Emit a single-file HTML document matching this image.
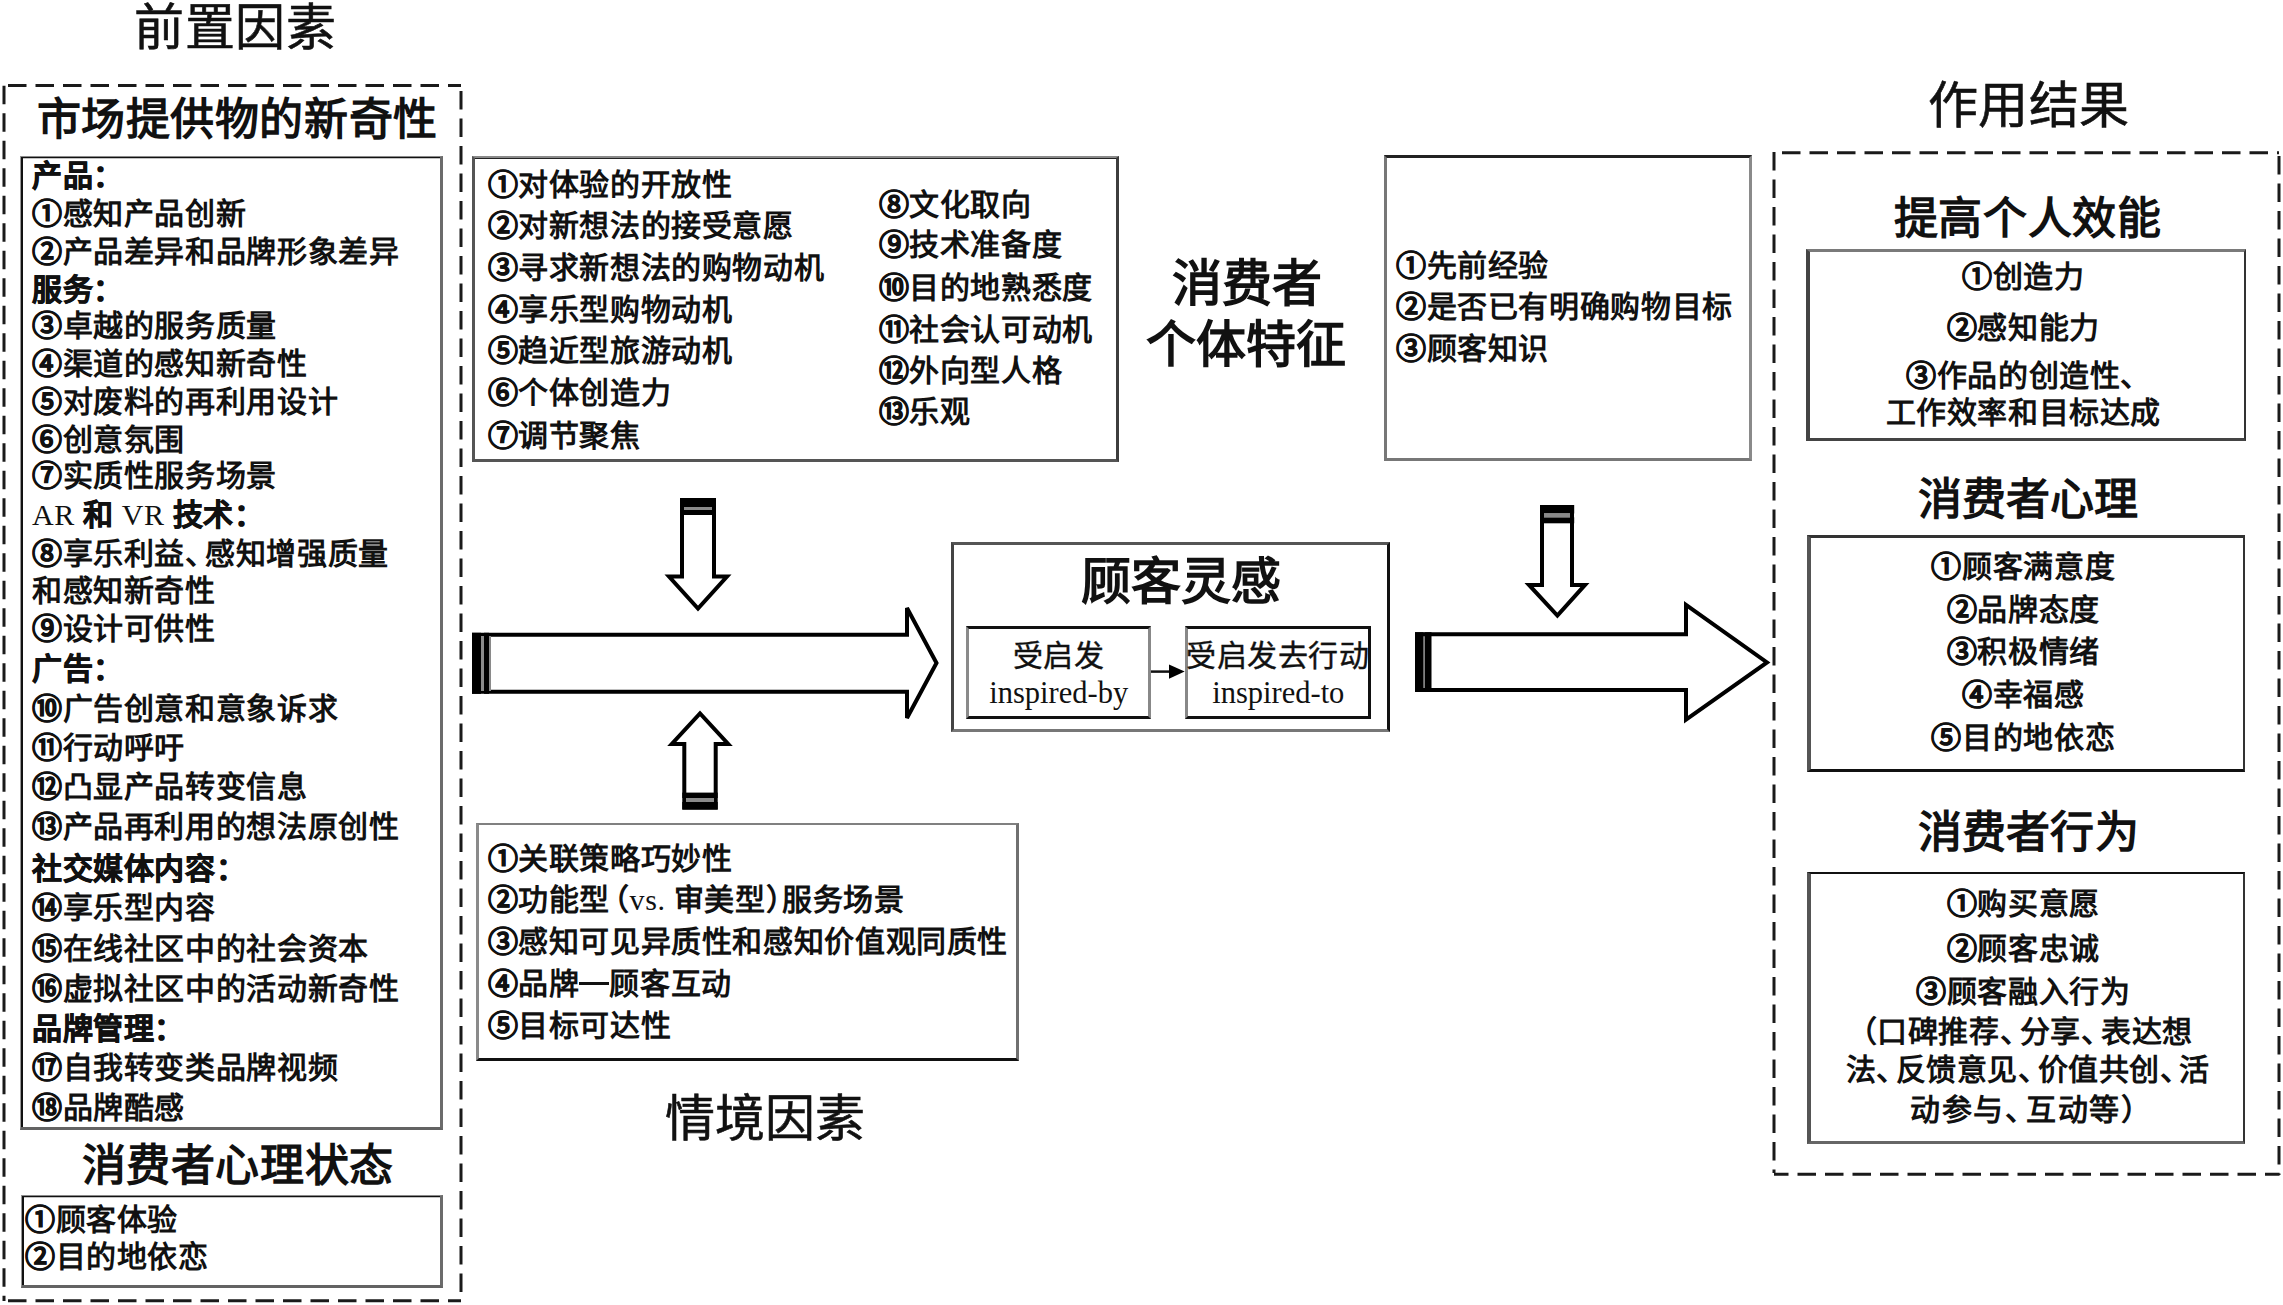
<!DOCTYPE html>
<html lang="zh-CN"><head><meta charset="utf-8"><title>diagram</title>
<style>
html,body{margin:0;padding:0;background:#fff;}
body{width:2283px;height:1305px;position:relative;overflow:hidden;font-family:"Liberation Serif",serif;color:#111;}
.t{position:absolute;white-space:nowrap;}
.b{position:absolute;box-sizing:border-box;border-style:solid;}
.h{margin-right:-0.35em;}
.c{margin-right:-0.4em;}
.po{margin-left:-0.5em;}
.pc{margin-right:-0.5em;}
.n{-webkit-text-stroke:0.6px #111;}
.hd{-webkit-text-stroke:0.7px #111;}
.lat{font-weight:normal;font-family:"Liberation Serif",serif;}
.dash{display:inline-block;width:1em;height:0.1em;background:#111;vertical-align:0.3em;}
</style></head><body>

<svg width="2283" height="1305" style="position:absolute;left:0;top:0">
 <g fill="none" stroke="#1a1a1a" stroke-width="3" stroke-dasharray="18.5 9">
  <path d="M4 85.7 V1301"/><path d="M8 85.5 H461"/><path d="M461 91 V1301"/><path d="M8 1300.8 H461"/>
  <path d="M1774 152 V1173"/><path d="M1782 152.7 H2279"/><path d="M2279 156 V1175"/><path d="M2279.5 1174.3 H1774" stroke-dashoffset="4"/>
 </g>
 <g fill="#fff" stroke="#000" stroke-width="4" stroke-linejoin="miter" stroke-miterlimit="3">
  <path d="M474 634.8 H907 V608 L936.5 663 L907 718 V691.8 H474 Z"/>
  <path d="M1417 634.2 H1686 V604.8 L1767 662.4 L1686 719.6 V690 H1417 Z"/>
  <path d="M682 500 H714 V576.6 H727 L698 608.5 L669 576.6 H682 Z"/>
  <path d="M684.3 807.6 H715.7 V744 H728.2 L700 713.5 L671.8 744 H684.3 Z"/>
  <path d="M1542 507 H1572 V584.9 H1585 L1557.4 615.5 L1529 584.9 H1542 Z"/>
 </g>
 <g fill="#000">
  <rect x="472" y="632.8" width="9" height="61"/><rect x="484" y="632.8" width="5" height="61"/>
  <rect x="1415" y="632.2" width="8.6" height="59.8"/><rect x="1424.5" y="632.2" width="7" height="59.8"/>
  <rect x="680" y="498" width="36" height="9"/><rect x="680" y="510" width="36" height="5"/>
  <rect x="682.3" y="792.6" width="35.4" height="5.4"/><rect x="682.3" y="802" width="35.4" height="7.6"/>
  <rect x="1540" y="505" width="34.2" height="8.5"/><rect x="1540" y="517.3" width="34.2" height="6"/>
 </g>
 <g fill="#8a8a8a">
  <rect x="481" y="636" width="3" height="55"/><rect x="489" y="636" width="2" height="55"/>
  <rect x="684" y="507" width="28" height="3"/>
  <rect x="686" y="798" width="28" height="4"/>
  <rect x="1544" y="513.5" width="26" height="3.8"/>
 </g>
 <g>
  <path d="M1150.8 671.6 H1172" stroke="#111" stroke-width="2.5"/>
  <path d="M1169 664.5 L1184.7 671.6 L1169 678.7 Z" fill="#000"/>
 </g>
</svg>

<div class="b" style="left:20.1px;top:156.3px;width:422.8px;height:973.7px;border-style:solid;border-width:1.8px 3px 3px 1.8px;border-color:#8a8a8a #6b6b6b #636363 #999;box-shadow:inset 2px 1.2px 0 #111;"></div>
<div class="b" style="left:21.0px;top:1194.5px;width:421.5px;height:93.0px;border-style:solid;border-width:1.8px 3px 3px 1.8px;border-color:#8a8a8a #6b6b6b #636363 #999;box-shadow:inset 2px 1.2px 0 #111;"></div>
<div class="b" style="left:472.3px;top:156.0px;width:646.5px;height:306.0px;border-style:solid;border-width:2px 3.6px 3px 3px;border-color:#8a8a8a #3d3d3d #555 #555;box-shadow:inset 0 1px 0 #222;"></div>
<div class="b" style="left:475.8px;top:823.0px;width:543.0px;height:237.5px;border-style:solid;border-width:2.5px 3px 3px 3px;border-color:#808080 #707070 #111 #8a8a8a;"></div>
<div class="b" style="left:950.5px;top:541.8px;width:439.0px;height:190.2px;border-style:solid;border-width:3px 3px 3px 3px;border-color:#555 #111 #777 #444;"></div>
<div class="b" style="left:965.5px;top:626.0px;width:185.5px;height:93.0px;border-style:solid;border-width:3px 3px 3px 3px;border-color:#111 #888 #111 #8a8a8a;"></div>
<div class="b" style="left:1184.5px;top:626.0px;width:186.5px;height:93.0px;border-style:solid;border-width:3px 3px 3px 3px;border-color:#111 #111 #111 #888;"></div>
<div class="b" style="left:1384.3px;top:155.3px;width:368.2px;height:305.7px;border-style:solid;border-width:3px 3px 3px 3px;border-color:#222 #8a8a8a #777 #777;"></div>
<div class="b" style="left:1806.2px;top:249.1px;width:439.4px;height:192.4px;border-style:solid;border-width:3px 2px 3px 4px;border-color:#7a7a7a #333 #444 #444;"></div>
<div class="b" style="left:1807.0px;top:534.6px;width:438.2px;height:237.9px;border-style:solid;border-width:3px 2px 3px 4px;border-color:#333 #333 #111 #555;"></div>
<div class="b" style="left:1806.9px;top:872.2px;width:438.3px;height:272.3px;border-style:solid;border-width:2.5px 2px 3.5px 4px;border-color:#111 #333 #666 #555;"></div>
<div class="t" style="top:3.0px;font-size:50px;line-height:50px;font-weight:normal;letter-spacing:0.67px;left:134.0px;-webkit-text-stroke:0.6px #111;">前置因素</div>
<div class="t" style="top:98.6px;font-size:44px;line-height:44px;font-weight:bold;letter-spacing:0.6px;left:36.5px;">市场提供物的新奇性</div>
<div class="t" style="top:1145.0px;font-size:44px;line-height:44px;font-weight:bold;letter-spacing:0.63px;left:81.5px;">消费者心理状态</div>
<div class="t" style="top:1093.7px;font-size:50px;line-height:50px;font-weight:normal;letter-spacing:0px;left:664.5px;-webkit-text-stroke:0.6px #111;">情境因素</div>
<div class="t" style="top:81.0px;font-size:50px;line-height:50px;font-weight:normal;letter-spacing:0.37px;left:1928.0px;-webkit-text-stroke:0.6px #111;">作用结果</div>
<div class="t" style="top:259.0px;font-size:50px;line-height:50px;font-weight:bold;letter-spacing:0px;left:1172.0px;">消费者</div>
<div class="t" style="top:320.0px;font-size:50px;line-height:50px;font-weight:bold;letter-spacing:0px;left:1146.0px;">个体特征</div>
<div class="t" style="top:557.0px;font-size:50px;line-height:50px;font-weight:bold;letter-spacing:0px;left:1081.0px;">顾客灵感</div>
<div class="t" style="top:198.0px;font-size:44px;line-height:44px;font-weight:bold;letter-spacing:0.72px;left:1893.5px;">提高个人效能</div>
<div class="t" style="top:479.0px;font-size:44px;line-height:44px;font-weight:bold;letter-spacing:0.18px;left:1917.5px;">消费者心理</div>
<div class="t" style="top:812.0px;font-size:44px;line-height:44px;font-weight:bold;letter-spacing:0.28px;left:1917.5px;">消费者行为</div>
<div class="t" style="top:161.4px;font-size:30px;line-height:30px;font-weight:bold;letter-spacing:0.62px;left:32.0px;"><span class="hd">产品<span class="c">：</span></span></div>
<div class="t" style="top:199.0px;font-size:30px;line-height:30px;font-weight:bold;letter-spacing:0.62px;left:32.0px;"><span class="n">①</span>感知产品创新</div>
<div class="t" style="top:237.0px;font-size:30px;line-height:30px;font-weight:bold;letter-spacing:0.62px;left:32.0px;"><span class="n">②</span>产品差异和品牌形象差异</div>
<div class="t" style="top:275.0px;font-size:30px;line-height:30px;font-weight:bold;letter-spacing:0.62px;left:32.0px;"><span class="hd">服务<span class="c">：</span></span></div>
<div class="t" style="top:311.0px;font-size:30px;line-height:30px;font-weight:bold;letter-spacing:0.62px;left:32.0px;"><span class="n">③</span>卓越的服务质量</div>
<div class="t" style="top:349.0px;font-size:30px;line-height:30px;font-weight:bold;letter-spacing:0.62px;left:32.0px;"><span class="n">④</span>渠道的感知新奇性</div>
<div class="t" style="top:387.0px;font-size:30px;line-height:30px;font-weight:bold;letter-spacing:0.62px;left:32.0px;"><span class="n">⑤</span>对废料的再利用设计</div>
<div class="t" style="top:425.0px;font-size:30px;line-height:30px;font-weight:bold;letter-spacing:0.62px;left:32.0px;"><span class="n">⑥</span>创意氛围</div>
<div class="t" style="top:461.0px;font-size:30px;line-height:30px;font-weight:bold;letter-spacing:0.62px;left:32.0px;"><span class="n">⑦</span>实质性服务场景</div>
<div class="t" style="top:500.0px;font-size:30px;line-height:30px;font-weight:bold;letter-spacing:0.62px;left:32.0px;"><span class="lat">AR </span><span class="hd">和</span><span class="lat"> VR </span><span class="hd">技术<span class="c">：</span></span></div>
<div class="t" style="top:539.0px;font-size:30px;line-height:30px;font-weight:bold;letter-spacing:0.62px;left:32.0px;"><span class="n">⑧</span>享乐利益<span class="h">、</span>感知增强质量</div>
<div class="t" style="top:576.0px;font-size:30px;line-height:30px;font-weight:bold;letter-spacing:0.62px;left:32.0px;">和感知新奇性</div>
<div class="t" style="top:613.5px;font-size:30px;line-height:30px;font-weight:bold;letter-spacing:0.62px;left:32.0px;"><span class="n">⑨</span>设计可供性</div>
<div class="t" style="top:654.0px;font-size:30px;line-height:30px;font-weight:bold;letter-spacing:0.62px;left:32.0px;"><span class="hd">广告<span class="c">：</span></span></div>
<div class="t" style="top:693.5px;font-size:30px;line-height:30px;font-weight:bold;letter-spacing:0.62px;left:32.0px;"><span class="n">⑩</span>广告创意和意象诉求</div>
<div class="t" style="top:733.0px;font-size:30px;line-height:30px;font-weight:bold;letter-spacing:0.62px;left:32.0px;"><span class="n">⑪</span>行动呼吁</div>
<div class="t" style="top:772.0px;font-size:30px;line-height:30px;font-weight:bold;letter-spacing:0.62px;left:32.0px;"><span class="n">⑫</span>凸显产品转变信息</div>
<div class="t" style="top:812.0px;font-size:30px;line-height:30px;font-weight:bold;letter-spacing:0.62px;left:32.0px;"><span class="n">⑬</span>产品再利用的想法原创性</div>
<div class="t" style="top:853.6px;font-size:30px;line-height:30px;font-weight:bold;letter-spacing:0.62px;left:32.0px;"><span class="hd">社交媒体内容<span class="c">：</span></span></div>
<div class="t" style="top:893.0px;font-size:30px;line-height:30px;font-weight:bold;letter-spacing:0.62px;left:32.0px;"><span class="n">⑭</span>享乐型内容</div>
<div class="t" style="top:933.5px;font-size:30px;line-height:30px;font-weight:bold;letter-spacing:0.62px;left:32.0px;"><span class="n">⑮</span>在线社区中的社会资本</div>
<div class="t" style="top:973.7px;font-size:30px;line-height:30px;font-weight:bold;letter-spacing:0.62px;left:32.0px;"><span class="n">⑯</span>虚拟社区中的活动新奇性</div>
<div class="t" style="top:1014.0px;font-size:30px;line-height:30px;font-weight:bold;letter-spacing:0.62px;left:32.0px;"><span class="hd">品牌管理<span class="c">：</span></span></div>
<div class="t" style="top:1052.5px;font-size:30px;line-height:30px;font-weight:bold;letter-spacing:0.62px;left:32.0px;"><span class="n">⑰</span>自我转变类品牌视频</div>
<div class="t" style="top:1092.8px;font-size:30px;line-height:30px;font-weight:bold;letter-spacing:0.62px;left:32.0px;"><span class="n">⑱</span>品牌酷感</div>
<div class="t" style="top:1205.0px;font-size:30px;line-height:30px;font-weight:bold;letter-spacing:0.62px;left:25.0px;"><span class="n">①</span>顾客体验</div>
<div class="t" style="top:1242.0px;font-size:30px;line-height:30px;font-weight:bold;letter-spacing:0.62px;left:25.0px;"><span class="n">②</span>目的地依恋</div>
<div class="t" style="top:170.3px;font-size:30px;line-height:30px;font-weight:bold;letter-spacing:0.62px;left:487.5px;"><span class="n">①</span>对体验的开放性</div>
<div class="t" style="top:210.8px;font-size:30px;line-height:30px;font-weight:bold;letter-spacing:0.62px;left:487.5px;"><span class="n">②</span>对新想法的接受意愿</div>
<div class="t" style="top:252.5px;font-size:30px;line-height:30px;font-weight:bold;letter-spacing:0.62px;left:487.5px;"><span class="n">③</span>寻求新想法的购物动机</div>
<div class="t" style="top:295.4px;font-size:30px;line-height:30px;font-weight:bold;letter-spacing:0.62px;left:487.5px;"><span class="n">④</span>享乐型购物动机</div>
<div class="t" style="top:336.0px;font-size:30px;line-height:30px;font-weight:bold;letter-spacing:0.62px;left:487.5px;"><span class="n">⑤</span>趋近型旅游动机</div>
<div class="t" style="top:377.5px;font-size:30px;line-height:30px;font-weight:bold;letter-spacing:0.62px;left:487.5px;"><span class="n">⑥</span>个体创造力</div>
<div class="t" style="top:420.5px;font-size:30px;line-height:30px;font-weight:bold;letter-spacing:0.62px;left:487.5px;"><span class="n">⑦</span>调节聚焦</div>
<div class="t" style="top:190.0px;font-size:30px;line-height:30px;font-weight:bold;letter-spacing:0.62px;left:878.5px;"><span class="n">⑧</span>文化取向</div>
<div class="t" style="top:230.4px;font-size:30px;line-height:30px;font-weight:bold;letter-spacing:0.62px;left:878.5px;"><span class="n">⑨</span>技术准备度</div>
<div class="t" style="top:273.3px;font-size:30px;line-height:30px;font-weight:bold;letter-spacing:0.62px;left:878.5px;"><span class="n">⑩</span>目的地熟悉度</div>
<div class="t" style="top:315.0px;font-size:30px;line-height:30px;font-weight:bold;letter-spacing:0.62px;left:878.5px;"><span class="n">⑪</span>社会认可动机</div>
<div class="t" style="top:355.5px;font-size:30px;line-height:30px;font-weight:bold;letter-spacing:0.62px;left:878.5px;"><span class="n">⑫</span>外向型人格</div>
<div class="t" style="top:397.0px;font-size:30px;line-height:30px;font-weight:bold;letter-spacing:0.62px;left:878.5px;"><span class="n">⑬</span>乐观</div>
<div class="t" style="top:844.0px;font-size:30px;line-height:30px;font-weight:bold;letter-spacing:0.62px;left:487.5px;"><span class="n">①</span>关联策略巧妙性</div>
<div class="t" style="top:885.0px;font-size:30px;line-height:30px;font-weight:bold;letter-spacing:0.62px;left:487.5px;"><span class="n">②</span>功能型<span style="margin-left:-0.37em">（</span><span class="lat">vs. </span>审美型<span style="margin-right:-0.467em">）</span>服务场景</div>
<div class="t" style="top:927.0px;font-size:30px;line-height:30px;font-weight:bold;letter-spacing:0.62px;left:487.5px;"><span class="n">③</span>感知可见异质性和感知价值观同质性</div>
<div class="t" style="top:969.0px;font-size:30px;line-height:30px;font-weight:bold;letter-spacing:0.62px;left:487.5px;"><span class="n">④</span>品牌<span class="dash"></span>顾客互动</div>
<div class="t" style="top:1011.0px;font-size:30px;line-height:30px;font-weight:bold;letter-spacing:0.62px;left:487.5px;"><span class="n">⑤</span>目标可达性</div>
<div class="t" style="top:250.5px;font-size:30px;line-height:30px;font-weight:bold;letter-spacing:0.62px;left:1396.0px;"><span class="n">①</span>先前经验</div>
<div class="t" style="top:292.4px;font-size:30px;line-height:30px;font-weight:bold;letter-spacing:0.62px;left:1396.0px;"><span class="n">②</span>是否已有明确购物目标</div>
<div class="t" style="top:334.0px;font-size:30px;line-height:30px;font-weight:bold;letter-spacing:0.62px;left:1396.0px;"><span class="n">③</span>顾客知识</div>
<div class="t" style="top:640.5px;font-size:30px;line-height:30px;font-weight:normal;letter-spacing:0.62px;left:968.6px;width:180px;text-align:center;-webkit-text-stroke:0.4px #111;">受启发</div>
<div class="t" style="top:693.0px;font-size:30.5px;line-height:30.5px;font-weight:normal;letter-spacing:0px;left:968.7px;width:180px;text-align:center;line-height:0;">inspired-by</div>
<div class="t" style="top:640.5px;font-size:30px;line-height:30px;font-weight:normal;letter-spacing:0.62px;left:1177.9px;width:200px;text-align:center;-webkit-text-stroke:0.4px #111;">受启发去行动</div>
<div class="t" style="top:693.0px;font-size:30.5px;line-height:30.5px;font-weight:normal;letter-spacing:0px;left:1188.3px;width:180px;text-align:center;line-height:0;">inspired-to</div>
<div class="t" style="top:262.0px;font-size:30px;line-height:30px;font-weight:bold;letter-spacing:0.62px;left:1808.3px;width:430px;text-align:center;"><span class="n">①</span>创造力</div>
<div class="t" style="top:312.8px;font-size:30px;line-height:30px;font-weight:bold;letter-spacing:0.62px;left:1808.3px;width:430px;text-align:center;"><span class="n">②</span>感知能力</div>
<div class="t" style="top:361.4px;font-size:30px;line-height:30px;font-weight:bold;letter-spacing:0.62px;left:1808.3px;width:430px;text-align:center;"><span class="n">③</span>作品的创造性<span class="h">、</span></div>
<div class="t" style="top:398.1px;font-size:30px;line-height:30px;font-weight:bold;letter-spacing:0.62px;left:1808.3px;width:430px;text-align:center;">工作效率和目标达成</div>
<div class="t" style="top:552.2px;font-size:30px;line-height:30px;font-weight:bold;letter-spacing:0.62px;left:1808.3px;width:430px;text-align:center;"><span class="n">①</span>顾客满意度</div>
<div class="t" style="top:595.2px;font-size:30px;line-height:30px;font-weight:bold;letter-spacing:0.62px;left:1808.3px;width:430px;text-align:center;"><span class="n">②</span>品牌态度</div>
<div class="t" style="top:636.9px;font-size:30px;line-height:30px;font-weight:bold;letter-spacing:0.62px;left:1808.3px;width:430px;text-align:center;"><span class="n">③</span>积极情绪</div>
<div class="t" style="top:679.9px;font-size:30px;line-height:30px;font-weight:bold;letter-spacing:0.62px;left:1808.3px;width:430px;text-align:center;"><span class="n">④</span>幸福感</div>
<div class="t" style="top:722.9px;font-size:30px;line-height:30px;font-weight:bold;letter-spacing:0.62px;left:1808.3px;width:430px;text-align:center;"><span class="n">⑤</span>目的地依恋</div>
<div class="t" style="top:889.4px;font-size:30px;line-height:30px;font-weight:bold;letter-spacing:0.62px;left:1808.3px;width:430px;text-align:center;"><span class="n">①</span>购买意愿</div>
<div class="t" style="top:933.9px;font-size:30px;line-height:30px;font-weight:bold;letter-spacing:0.62px;left:1808.3px;width:430px;text-align:center;"><span class="n">②</span>顾客忠诚</div>
<div class="t" style="top:976.8px;font-size:30px;line-height:30px;font-weight:bold;letter-spacing:0.62px;left:1808.3px;width:430px;text-align:center;"><span class="n">③</span>顾客融入行为</div>
<div class="t" style="top:1016.6px;font-size:30px;line-height:30px;font-weight:bold;letter-spacing:0.62px;left:1812.3px;width:430px;text-align:center;"><span class="po">（</span>口碑推荐<span class="h">、</span>分享<span class="h">、</span>表达想</div>
<div class="t" style="top:1055.0px;font-size:30px;line-height:30px;font-weight:bold;letter-spacing:0.44px;left:1812.8px;width:430px;text-align:center;">法<span class="h">、</span>反馈意见<span class="h">、</span>价值共创<span class="h">、</span>活</div>
<div class="t" style="top:1094.8px;font-size:30px;line-height:30px;font-weight:bold;letter-spacing:1.62px;left:1808.8px;width:430px;text-align:center;">动参与<span class="h">、</span>互动等<span class="pc">）</span></div>
</body></html>
